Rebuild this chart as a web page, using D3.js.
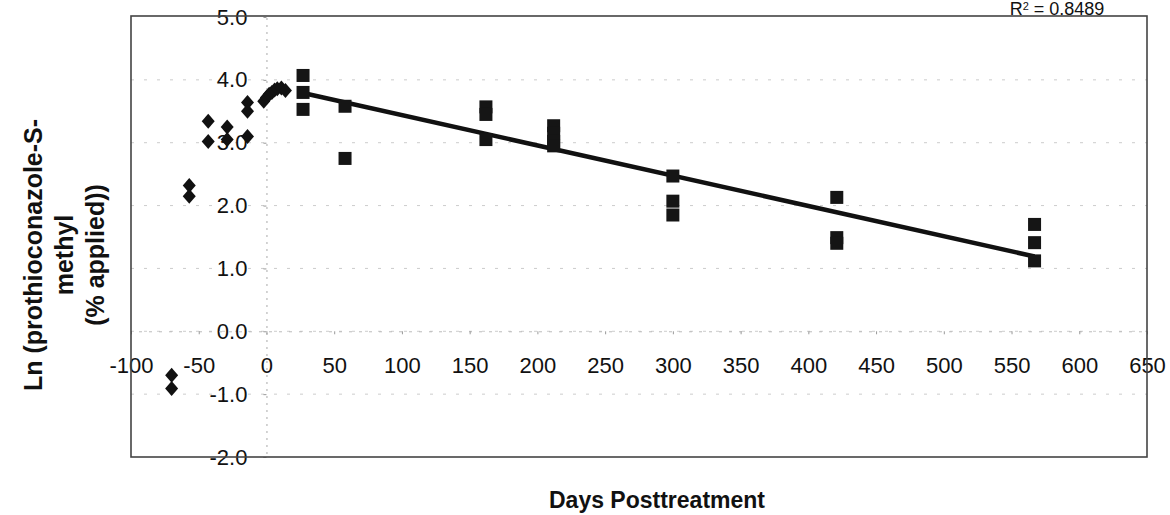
<!DOCTYPE html>
<html>
<head>
<meta charset="utf-8">
<script src="https://cdn.jsdelivr.net/npm/d3@7"></script>
<style>
  body { margin: 0; background: #fff; }
  text { font-family: "Liberation Sans", Arial, sans-serif; fill: #111; }
</style>
</head>
<body>
<svg width="1170" height="515"></svg>
<script>
// pre-treatment points (diamonds)
var preDays = [-70, -70, -57, -57, -43, -43, -29, -29, -14, -14, -14, -2, 0, 2, 4, 6, 8, 11, 14];
var preLn   = [-0.70, -0.91, 2.32, 2.15, 3.34, 3.02, 3.25, 3.05, 3.64, 3.50, 3.10, 3.66, 3.72, 3.77, 3.80, 3.84, 3.86, 3.87, 3.83];

// posttreatment points (squares)
var postDays = [27, 27, 27, 58, 58, 162, 162, 162, 212, 212, 212, 212, 300, 300, 300, 421, 421, 421, 567, 567, 567];
var postLn   = [4.07, 3.80, 3.53, 3.58, 2.75, 3.57, 3.45, 3.05, 3.27, 3.15, 3.02, 2.95, 2.47, 2.07, 1.85, 2.13, 1.49, 1.40, 1.70, 1.41, 1.12];

// linear trend line ends
var trendDays = [27, 567];
var trendLn   = [3.79, 1.19];

var xTicks = d3.range(-100, 651, 50);
var yTicks = [-2, -1, 0, 1, 2, 3, 4, 5];
var r2Label = "0.8489";

const svg = d3.select("svg");

const x = d3.scaleLinear().domain([-100, 650]).range([131, 1147]);
const y = d3.scaleLinear().domain([-2, 5]).range([457, 17]);

// plain hyphen for negatives, like the original
const fmtY = d => d.toFixed(1).replace("\u2212", "-");
const fmtX = d => String(d);

// faint gridlines
svg.append("g")
  .selectAll("line")
  .data(yTicks.filter(d => d > -2 && d < 5))
  .enter().append("line")
    .attr("x1", x(-100)).attr("x2", x(650))
    .attr("y1", d => y(d)).attr("y2", d => y(d))
    .attr("stroke", "#ccc")
    .attr("stroke-width", 1)
    .attr("stroke-dasharray", "3,10");

// y axis at x = 0
const yAxis = d3.axisLeft(y).tickValues(yTicks).tickSize(3).tickFormat(fmtY);
const gy = svg.append("g")
  .attr("transform", `translate(${x(0)},0)`)
  .call(yAxis);
gy.select(".domain").attr("stroke", "#aaa").attr("stroke-dasharray", "2,5");
gy.selectAll(".tick line").attr("stroke", "#999");
gy.selectAll(".tick text")
  .attr("x", -19)
  .style("font-size", "22px")
  .style("font-family", "Liberation Sans, Arial, sans-serif")
  .attr("fill", "#111");

// x axis at y = 0
const xAxis = d3.axisBottom(x).tickValues(xTicks).tickSize(3).tickFormat(fmtX);
const gx = svg.append("g")
  .attr("transform", `translate(0,${y(0)})`)
  .call(xAxis);
gx.select(".domain").attr("stroke", "#bbb").attr("stroke-dasharray", "3,7");
gx.selectAll(".tick line").attr("stroke", "#999");
gx.selectAll(".tick text")
  .attr("y", 26)
  .style("font-size", "22px")
  .style("font-family", "Liberation Sans, Arial, sans-serif")
  .attr("fill", "#111");

// plot border
svg.append("rect")
  .attr("x", x(-100)).attr("y", y(5) - 1)
  .attr("width", x(650) - x(-100))
  .attr("height", y(-2) - y(5) + 1)
  .attr("fill", "none")
  .attr("stroke", "#444")
  .attr("stroke-width", 1.6);

// trend line
svg.append("line")
  .attr("x1", x(trendDays[0])).attr("y1", y(trendLn[0]))
  .attr("x2", x(trendDays[1])).attr("y2", y(trendLn[1]))
  .attr("stroke", "#111")
  .attr("stroke-width", 4.5);

// diamonds
const diamond = (cx, cy) => `M${cx},${cy - 7.5}L${cx + 6.5},${cy}L${cx},${cy + 7.5}L${cx - 6.5},${cy}Z`;
svg.append("g")
  .selectAll("path")
  .data(preDays.map((d, i) => ({ day: d, ln: preLn[i] })))
  .enter().append("path")
    .attr("d", d => diamond(x(d.day), y(d.ln)))
    .attr("fill", "#111");

// squares
svg.append("g")
  .selectAll("rect")
  .data(postDays.map((d, i) => ({ day: d, ln: postLn[i] })))
  .enter().append("rect")
    .attr("x", d => x(d.day) - 6.5)
    .attr("y", d => y(d.ln) - 6.5)
    .attr("width", 13)
    .attr("height", 13)
    .attr("fill", "#151515");

// R squared label
const r2 = svg.append("text")
  .attr("x", 1057).attr("y", 15)
  .attr("text-anchor", "middle")
  .style("font-size", "18px");
r2.append("tspan").text("R");
r2.append("tspan").attr("dy", -5).style("font-size", "11px").text("2");
r2.append("tspan").attr("dy", 5).text(" = " + r2Label);

// axis titles
svg.append("text")
  .attr("x", 657).attr("y", 508)
  .attr("text-anchor", "middle")
  .style("font-size", "23px")
  .style("font-weight", "bold")
  .text("Days Posttreatment");

const yTitle = ["Ln (prothioconazole-S-", "methyl", "(% applied))"];
svg.append("g")
  .attr("transform", "translate(0,255) rotate(-90)")
  .selectAll("text")
  .data(yTitle)
  .enter().append("text")
    .attr("x", 0)
    .attr("y", (d, i) => 42 + i * 31)
    .attr("text-anchor", "middle")
    .style("font-size", "25px")
    .style("font-weight", "bold")
    .text(d => d);
</script>
</body>
</html>
